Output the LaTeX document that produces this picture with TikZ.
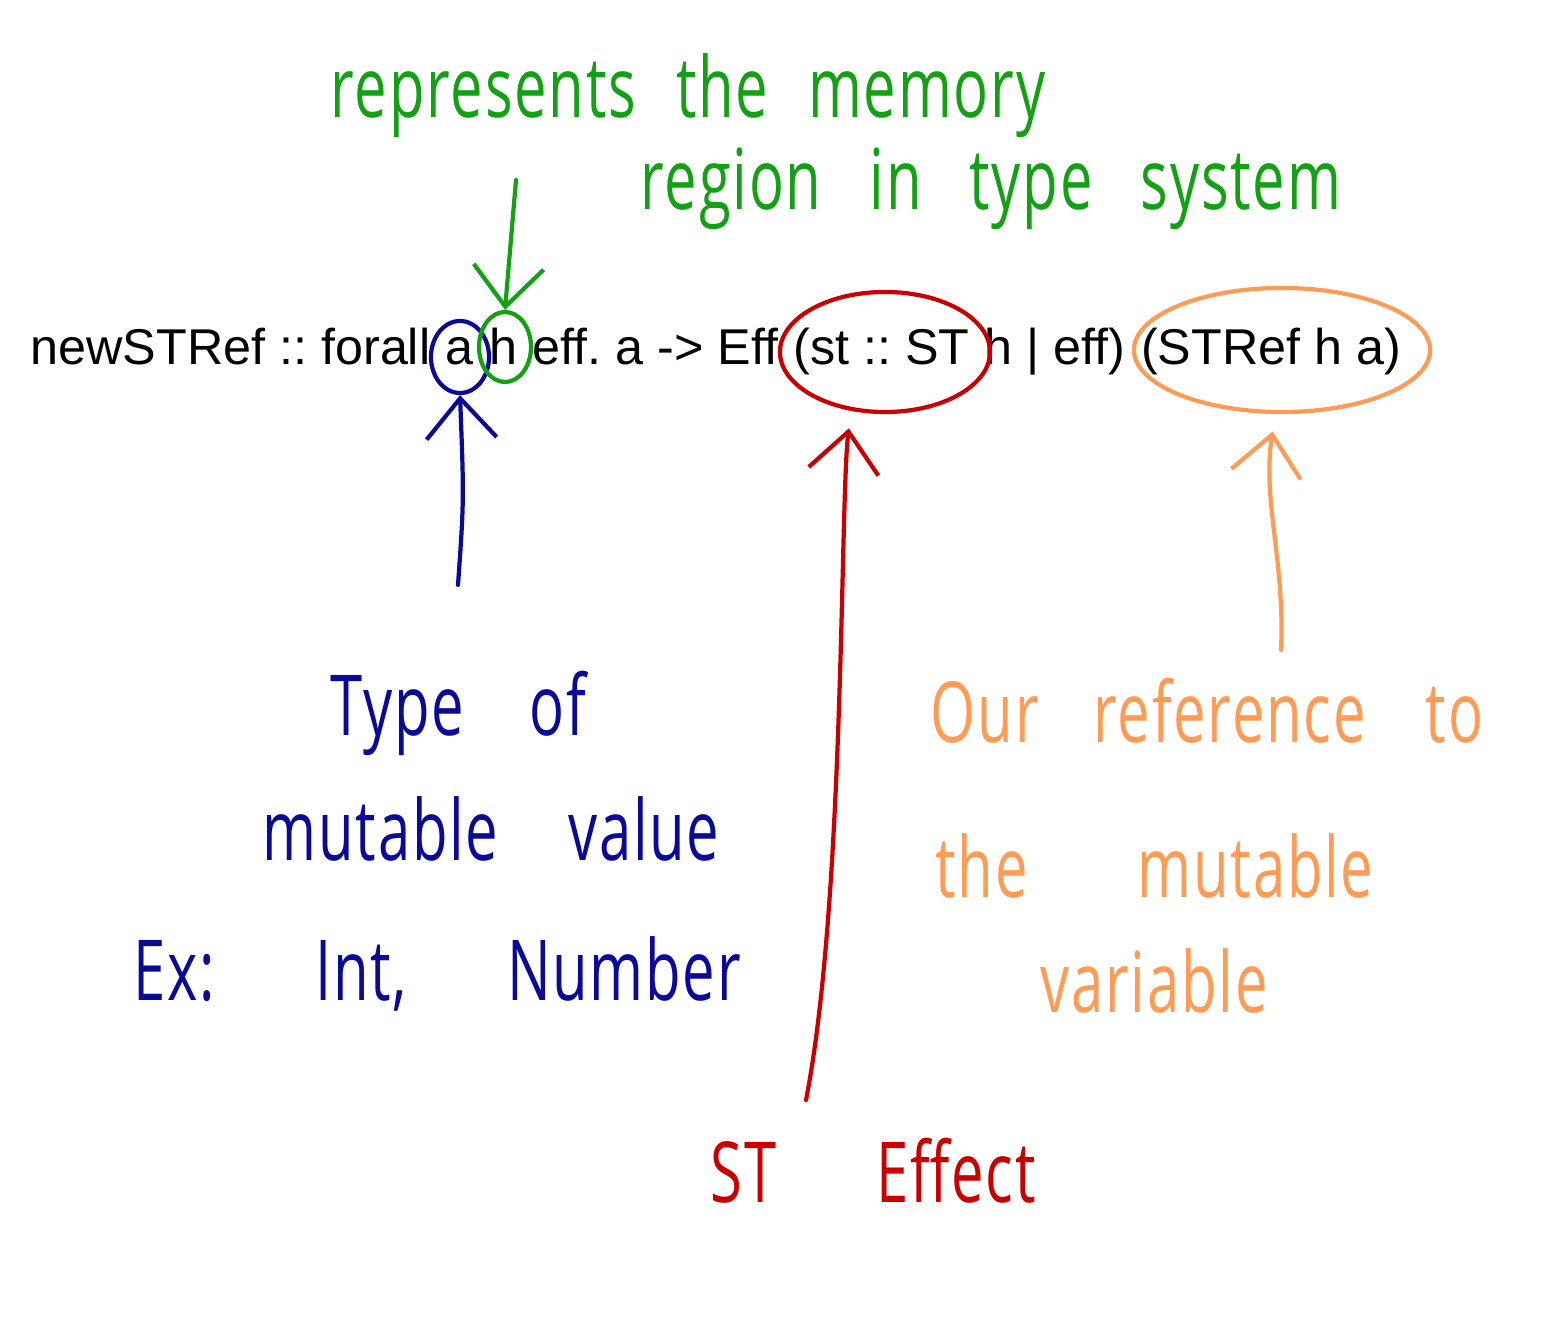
\documentclass[tikz,border=0pt]{standalone}
\usepackage{fontspec}
\newfontfamily\codefont{Liberation Sans}
\newfontfamily\handfont[LetterSpace=3]{Open Sans}
\usetikzlibrary{positioning}
\usetikzlibrary{shapes.geometric}
\usetikzlibrary{arrows.meta}
\definecolor{penGreen}{RGB}{20,160,20}
\definecolor{penBlue}{RGB}{10,10,150}
\definecolor{penRed}{RGB}{200,0,0}
\definecolor{penOrange}{RGB}{255,155,85}
\newcommand{\codegap}{3.98pt}
\newcommand{\tall}[1]{\scalebox{1}[1.45]{#1}}
\newcommand{\wgap}[1]{\hspace*{#1cm}}

\begin{document}
\begin{tikzpicture}[x=0.01cm, y=-0.01cm,
	code/.style={inner sep=0pt, anchor=base west, font=\codefont\fontsize{14.3pt}{17pt}\selectfont\frenchspacing},
	hand/.style={inner sep=0pt, anchor=base west, font=\handfont\fontsize{16.5pt}{19pt}\selectfont\frenchspacing},
	ring/.style={draw, ellipse, line width=1.2pt, inner sep=0pt},
	pen/.style={line width=1.2pt, line cap=round, -{Straight Barb[length=4mm, width=7mm]}}]
	\useasboundingbox (0,0) rectangle (1552,1322);
	
	% the signature
	\node[code](pre) at (30, 365) {newSTRef :: forall};
	\node[code](va) at ([xshift=\codegap]pre.base east) {a};
	\node[code](vh) at ([xshift=\codegap]va.base east) {h};
	\node[code](mid) at ([xshift=\codegap]vh.base east) {eff. a -> Eff};
	\node[code](st) at ([xshift=\codegap]mid.base east) {(st :: ST};
	\node[code](rest) at ([xshift=\codegap]st.base east) {h | eff)};
	\node[code](ref) at ([xshift=\codegap]rest.base east) {(STRef h a)};
	
	% circled parts
	\node[ring, penBlue, minimum width=0.58cm, minimum height=0.72cm](aring) at (460, 357) {};
	\node[ring, penGreen, minimum width=0.52cm, minimum height=0.7cm](hring) at (505, 347) {};
	\node[ring, penRed, minimum width=2.1cm, minimum height=1.2cm](string) at (885, 352) {};
	\node[ring, penOrange, minimum width=2.96cm, minimum height=1.24cm](refring) at (1282, 350) {};
	
	% green note
	\node[hand, penGreen](regionA) at (330, 118) {\tall{represents\wgap{0.4}the\wgap{0.4}memory}};
	\node[hand, penGreen](regionB) at (640, 210) {\tall{region\wgap{0.48}in\wgap{0.48}type\wgap{0.48}system}};
	\coordinate (greentail) at (516, 180);
	\draw[pen, penGreen] (greentail) -- (hring.north);
	
	% blue note
	\node[hand, penBlue](valueA) at (330, 735) {\tall{Type\wgap{0.65}of}};
	\node[hand, penBlue](valueB) at (262, 860) {\tall{mutable\wgap{0.7}value}};
	\node[hand, penBlue](valueC) at (133, 1000) {\tall{Ex:\wgap{1.0}Int,\wgap{1.0}Number}};
	\coordinate (bluetail) at (458, 585);
	\draw[pen, penBlue] (bluetail) .. controls (464, 500) .. (aring.south);
	
	% red note
	\node[hand, penRed](effect) at (710, 1202) {\tall{ST\wgap{1.0}Effect}};
	\coordinate (redtail) at (806, 1100);
	\draw[pen, penRed, shorten >=5pt] (redtail) .. controls (845, 900) and (840, 500) .. (string.-120);
	
	% orange note
	\node[hand, penOrange](refA) at (930, 742) {\tall{Our\wgap{0.55}reference\wgap{0.6}to}};
	\node[hand, penOrange](refB) at (935, 897) {\tall{the\wgap{1.1}mutable}};
	\node[hand, penOrange](refC) at (1040, 1012) {\tall{variable}};
	\coordinate (orangetail) at (1281, 650);
	\draw[pen, penOrange, shorten >=5pt] (orangetail) .. controls (1285, 560) and (1262, 500) .. (refring.-96);
\end{tikzpicture}
\end{document}
